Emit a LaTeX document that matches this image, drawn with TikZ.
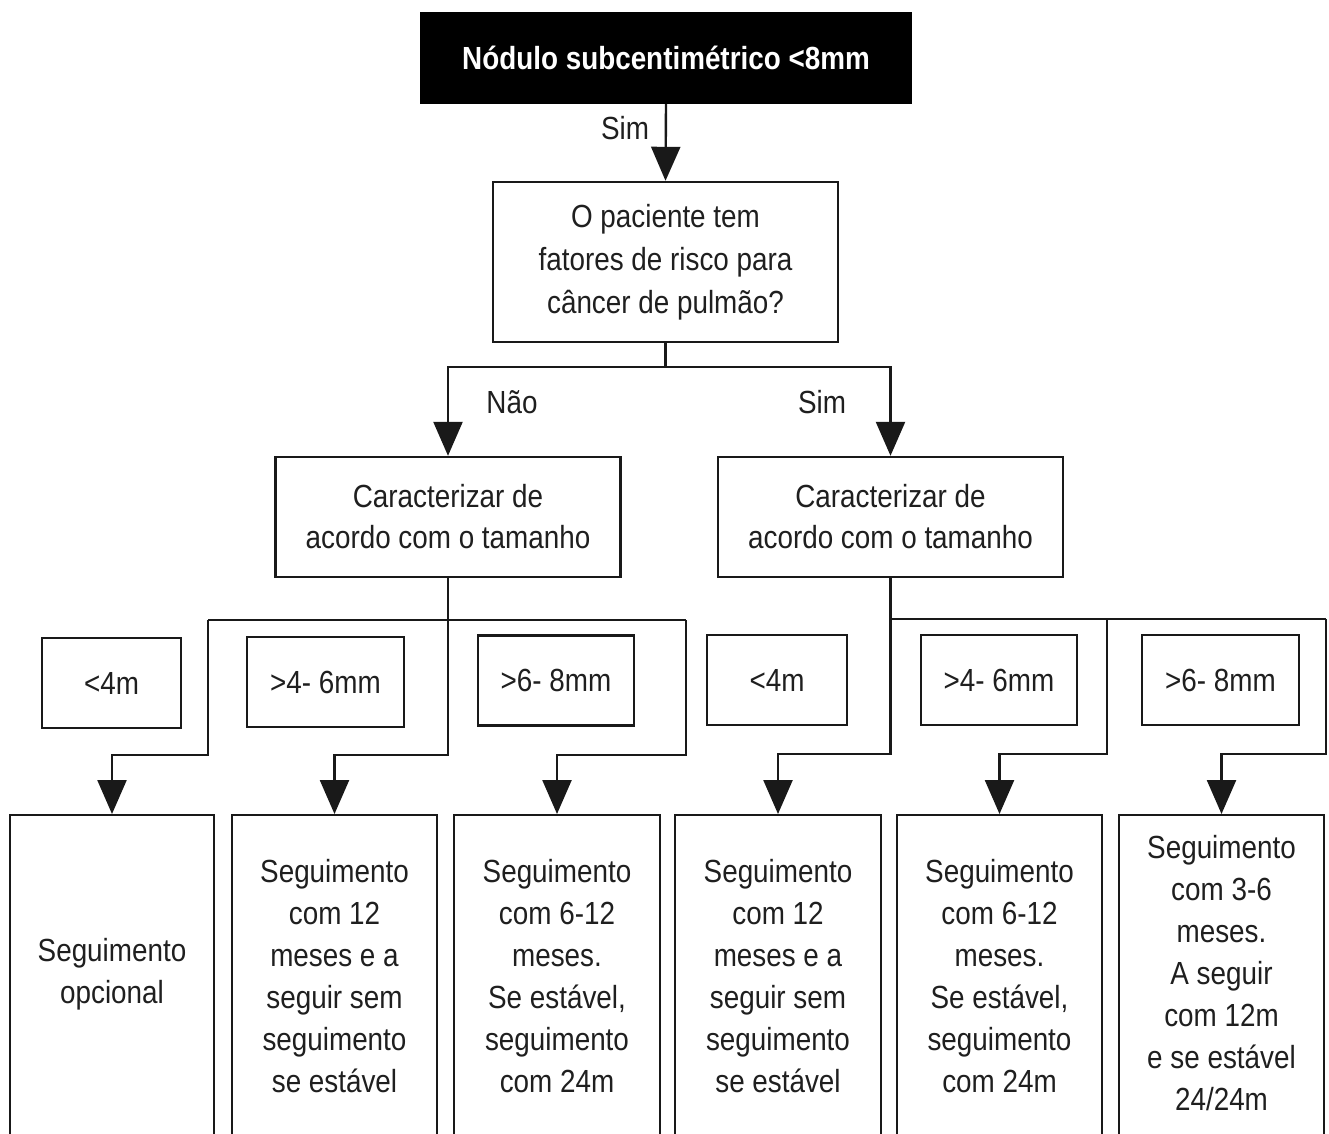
\documentclass[tikz,border=0pt]{standalone}
\usepackage{fontspec}
\setmainfont{Liberation Sans}[FakeStretch=0.87]
\usetikzlibrary{arrows.meta}
\begin{document}
\begin{tikzpicture}[x=1pt,y=-1pt,
  txt/.style={font=\fontsize{32}{42}\selectfont, text=black!88},
  box/.style={draw=black!90, line width=2.4pt, rectangle, inner sep=0pt, align=center, txt},
  small/.style={box, minimum height=90pt},
  tall/.style={draw=black!90, line width=2.4pt, rectangle, inner sep=0pt, anchor=north, minimum height=380pt},
  wire/.style={draw=black!90, line width=2.4pt},
  arr/.style={wire, -{Triangle[width=29pt,length=34pt]}},
  lbl/.style={txt}
]
\useasboundingbox (0,0) rectangle (1329,1133);
\clip (0,0) rectangle (1329,1133);
\fill[white] (0,0) rectangle (1329,1133);

% start
\node[fill=black, minimum width=492pt, minimum height=92pt, inner sep=0pt,
      text=white, font=\fontsize{32}{38}\selectfont\bfseries] (top) at (666,58) {Nódulo subcentimétrico <8mm};

% question
\node[box, minimum width=345pt, minimum height=160pt, font=\fontsize{32}{43}\selectfont] (q) at (665.5,262)
  {O paciente tem\\fatores de risco para\\câncer de pulmão?};

% size characterisation
\node[box, minimum width=345pt, minimum height=120pt, font=\fontsize{32}{41}\selectfont] (L) at (448,517) {Caracterizar de\\acordo com o tamanho};
\node[box, minimum width=345pt, minimum height=120pt, font=\fontsize{32}{41}\selectfont] (R) at (890.5,517) {Caracterizar de\\acordo com o tamanho};

% size classes
\node[small, minimum width=139pt] (s1) at (111.5,683) {<4m};
\node[small, minimum width=157pt] (s2) at (325.5,682) {>4- 6mm};
\node[small, minimum width=156pt] (s3) at (556,680.5) {>6- 8mm};
\node[small, minimum width=140pt] (s4) at (777,680) {<4m};
\node[small, minimum width=156pt] (s5) at (999,680) {>4- 6mm};
\node[small, minimum width=157pt] (s6) at (1220.5,680) {>6- 8mm};

% follow-up boxes
\node[tall, minimum width=204pt] (b1) at (112,814) {};
\node[tall, minimum width=205pt] (b2) at (334.5,814) {};
\node[tall, minimum width=206pt] (b3) at (557,814) {};
\node[tall, minimum width=206pt] (b4) at (778,814) {};
\node[tall, minimum width=205pt] (b5) at (999.5,814) {};
\node[tall, minimum width=205pt] (b6) at (1221.5,814) {};

\node[lbl, align=center] (t1) at (112,974) {Seguimento\\opcional};
\node[lbl, align=center] (t2) at (334.5,976) {Seguimento\\com 12\\meses e a\\seguir sem\\seguimento\\se estável};
\node[lbl, align=center] (t3) at (557,976) {Seguimento\\com 6-12\\meses.\\Se estável,\\seguimento\\com 24m};
\node[lbl, align=center] (t4) at (778,976) {Seguimento\\com 12\\meses e a\\seguir sem\\seguimento\\se estável};
\node[lbl, align=center] (t5) at (999.5,976) {Seguimento\\com 6-12\\meses.\\Se estável,\\seguimento\\com 24m};
\node[lbl, align=center] (t6) at (1221.5,973) {Seguimento\\com 3-6\\meses.\\A seguir\\com 12m\\e se estável\\24/24m};

% top connector
\draw[arr] (top.south) -- (q.north);
\node[lbl] (sim1) at (625,128) {Sim};

% yes / no split
\coordinate (qj) at (q.south |- 0,367);
\draw[wire] (q.south) -- (qj);
\draw[arr] (qj) -| (L.north);
\draw[arr] (qj) -| (R.north);
\node[lbl] (nao) at (512,402) {Não};
\node[lbl] (sim2) at (822,402) {Sim};

% left branch routing
\coordinate (la) at (208,620);
\coordinate (lb) at (686,620);
\draw[wire] (la) -- (lb);
\draw[arr] (la) -- (208,755) -| (b1.north);
\draw[arr] (L.south) -- (L.south |- 0,755) -| (b2.north);
\draw[arr] (lb) -- (686,755) -| (b3.north);

% right branch routing
\coordinate (ra) at (R.south |- 0,619);
\coordinate (rm) at (1107,619);
\coordinate (rb) at (1326,619);
\draw[wire] (ra) -- (rb);
\draw[arr] (R.south) -- (R.south |- 0,754) -| (b4.north);
\draw[arr] (rm) -- (1107,754) -| (b5.north);
\draw[arr] (rb) -- (1326,754) -| (b6.north);
\end{tikzpicture}
\end{document}
